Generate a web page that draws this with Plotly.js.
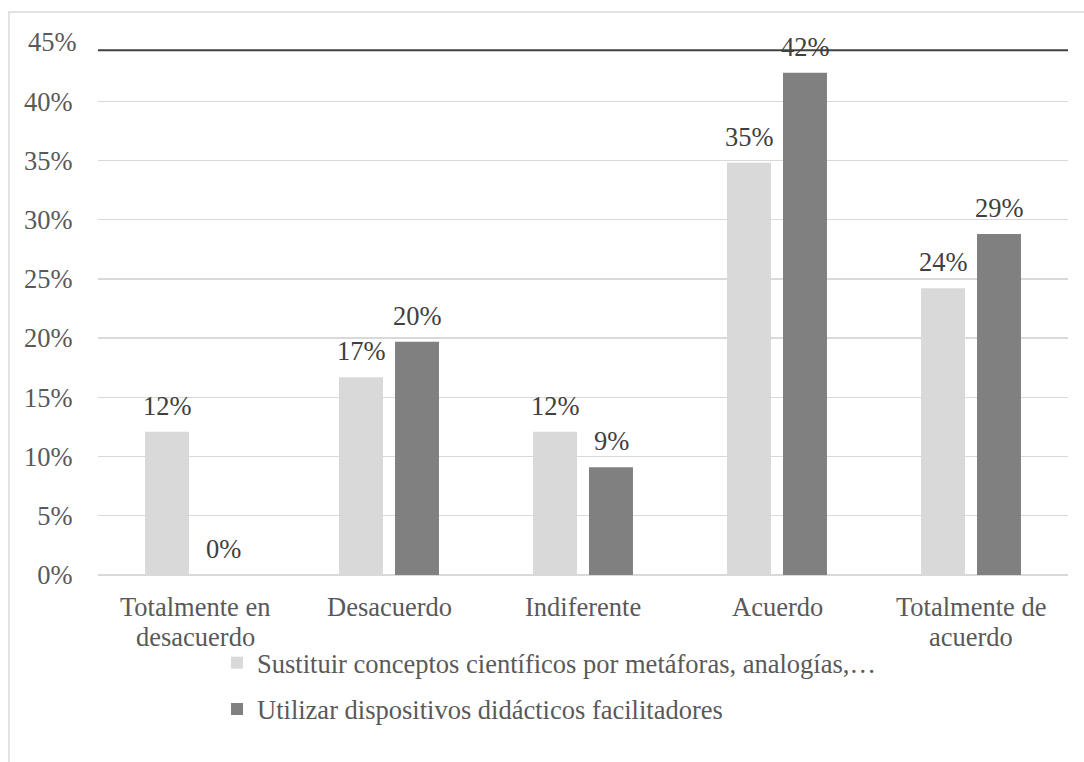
<!DOCTYPE html>
<html>
<head>
<meta charset="utf-8">
<script src="https://cdn.plot.ly/plotly-3.0.1.min.js"></script>
<style>
  html, body { margin: 0; padding: 0; background: #ffffff; }
  #chart { width: 1084px; height: 762px; }
</style>
</head>
<body>
<div id="chart"></div>
<script>
// Survey answers (share of respondents, %)
const categories = ['Totalmente en desacuerdo', 'Desacuerdo', 'Indiferente', 'Acuerdo', 'Totalmente de acuerdo'];
const categoryLines = [['Totalmente en', 'desacuerdo'], ['Desacuerdo'], ['Indiferente'], ['Acuerdo'], ['Totalmente de', 'acuerdo']];
const seriesNames = ['Sustituir conceptos científicos por metáforas, analogías,…', 'Utilizar dispositivos didácticos facilitadores'];
const sustituir = [12.1, 16.7, 12.1, 34.8, 24.2];
const utilizar = [0, 19.7, 9.1, 42.4, 28.8];
const yTicks = [0, 5, 10, 15, 20, 25, 30, 35, 40];
const referenceLine = 44.3;

const FONT = "'Liberation Serif', 'Times New Roman', serif";
const FS = 26.5;
const colors = ['#d9d9d9', '#808080'];

const traces = [sustituir, utilizar].map((vals, i) => ({
  type: 'bar',
  name: seriesNames[i],
  x: categories,
  y: vals,
  marker: { color: colors[i] },
  legend: i === 0 ? 'legend' : 'legend2',
  hoverinfo: 'skip'
}));

const annotations = [];
// value labels above each bar
[sustituir, utilizar].forEach((vals, i) => {
  vals.forEach((v, j) => {
    annotations.push({
      x: categories[j], y: v, xref: 'x', yref: 'y',
      text: Math.round(v) + '%',
      showarrow: false,
      xshift: i === 0 ? -28 : 28,
      yshift: 26,
      yanchor: 'middle',
      font: { family: FONT, size: FS, color: '#404040' }
    });
  });
});
// category labels under the axis, one line per annotation for tighter leading
categoryLines.forEach((lines, j) => {
  lines.forEach((line, k) => {
    annotations.push({
      x: categories[j], xref: 'x', y: 0, yref: 'paper',
      yanchor: 'middle', yshift: -(32 + k * 30),
      text: line, showarrow: false, borderpad: 0,
      font: { family: FONT, size: FS, color: '#595959' }
    });
  });
});
// top tick label
annotations.push({
  x: 0, xref: 'paper', xanchor: 'right', xshift: -19,
  y: 45, yref: 'y', yanchor: 'middle',
  text: '45%', showarrow: false,
  font: { family: FONT, size: FS, color: '#595959' }
});

const layout = {
  width: 1084, height: 762,
  margin: { l: 98, r: 16, t: 42, b: 187 },
  paper_bgcolor: '#ffffff', plot_bgcolor: '#ffffff',
  font: { family: FONT, size: FS, color: '#595959' },
  barmode: 'group',
  bargap: 0.423,
  bargroupgap: 0.214,
  showlegend: true,
  xaxis: {
    type: 'category',
    showgrid: false, showline: false, zeroline: false,
    showticklabels: false, ticks: ''
  },
  yaxis: {
    range: [0, 45],
    tickvals: yTicks,
    ticktext: yTicks.map(t => t + '%'),
    showgrid: true, gridcolor: '#d9d9d9', gridwidth: 1.3,
    zeroline: true, zerolinecolor: '#d9d9d9', zerolinewidth: 1.3,
    showline: false,
    ticks: 'outside', ticklen: 0, tickcolor: 'rgba(0,0,0,0)',
    ticklabelstandoff: 19,
    tickfont: { family: FONT, size: FS, color: '#595959' }
  },
  legend: {
    x: 0.1227, xanchor: 'left', y: -0.165, yanchor: 'middle',
    font: { family: FONT, size: FS, color: '#595959' },
    bgcolor: 'rgba(0,0,0,0)', itemclick: false, itemdoubleclick: false
  },
  legend2: {
    x: 0.1227, xanchor: 'left', y: -0.252, yanchor: 'middle',
    font: { family: FONT, size: FS, color: '#595959' },
    bgcolor: 'rgba(0,0,0,0)', itemclick: false, itemdoubleclick: false
  },
  shapes: [
    { type: 'line', xref: 'paper', yref: 'y', x0: 0, x1: 1, y0: referenceLine, y1: referenceLine,
      line: { color: '#404040', width: 2 } },
    { type: 'rect', xref: 'paper', yref: 'paper', x0: -0.0918, x1: 1.2, y0: -1, y1: 1.0563,
      line: { color: '#d9d9d9', width: 1.5 }, fillcolor: 'rgba(0,0,0,0)', layer: 'below' }
  ],
  annotations: annotations
};

Plotly.newPlot('chart', traces, layout, { displayModeBar: false, staticPlot: true });
</script>
</body>
</html>
